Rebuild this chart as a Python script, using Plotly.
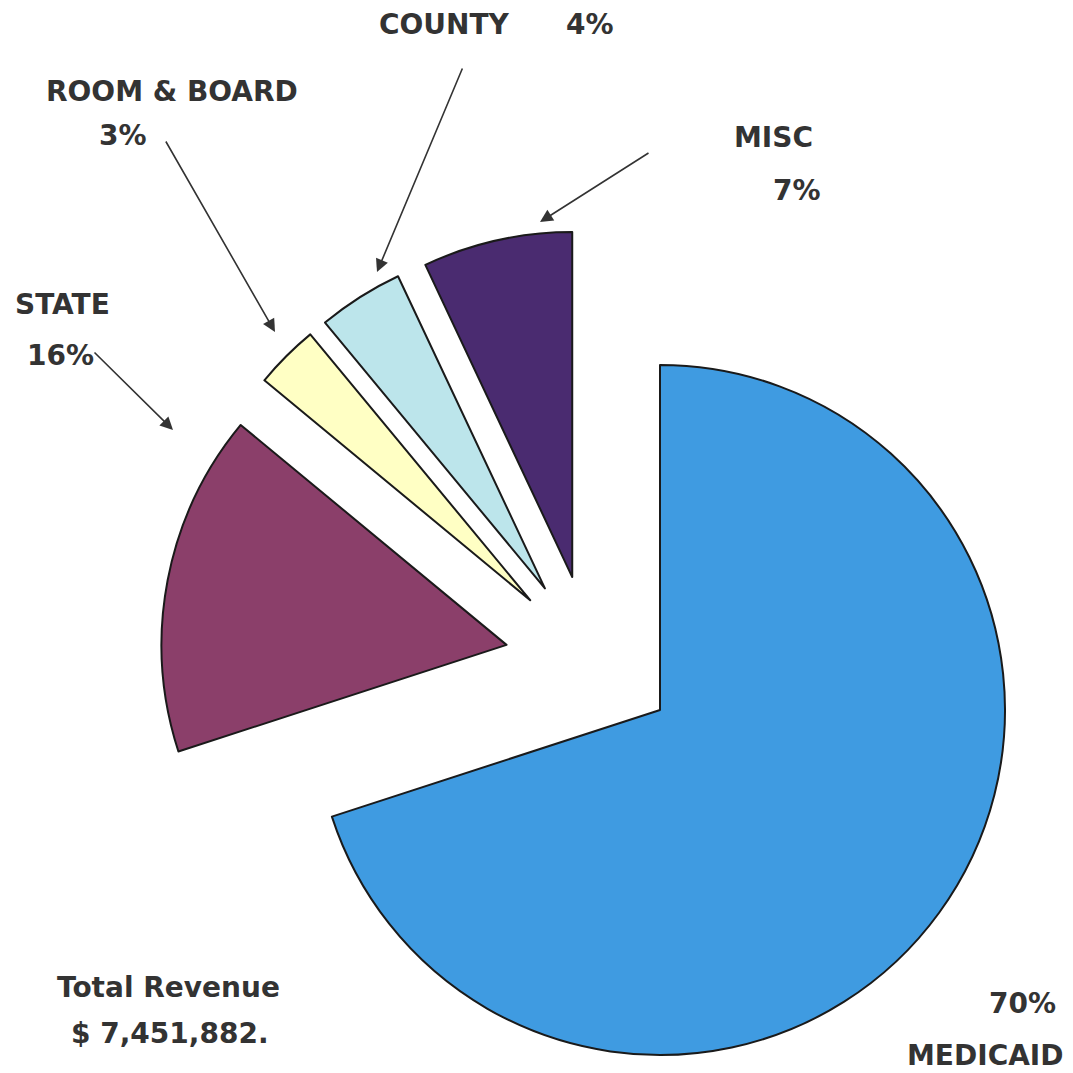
import math
import plotly.graph_objects as go

# ---- data ----
categories = ["MEDICAID", "STATE", "ROOM & BOARD", "COUNTY", "MISC"]
percent = [70, 16, 3, 4, 7]
colors = ["#3F9BE1", "#8B3F6A", "#FFFFC4", "#BCE5EB", "#4A2B70"]
total_revenue = "$ 7,451,882."

# ---- layout constants (pixels) ----
W = H = 1073
R = 345                      # pie radius
MAIN_C = (660, 710)          # centre of the un-pulled slice
EXPL_C = (591, 661)          # anchor of exploded group
EXPL_D = 86                  # explode distance
FONT = dict(family="DejaVu Sans", size=28, color="#333333")

def domain_for(cx, cy):
    return dict(x=[(cx - R) / W, (cx + R) / W],
                y=[1 - (cy + R) / H, 1 - (cy - R) / H])

fig = go.Figure()
total = sum(percent)
start = 0.0
for i, (cat, v) in enumerate(zip(categories, percent)):
    mid = start + v / total * 360 / 2
    start += v / total * 360
    if i == 0:
        cx, cy = MAIN_C
    else:
        a = math.radians(mid)
        cx = EXPL_C[0] + EXPL_D * math.sin(a)
        cy = EXPL_C[1] - EXPL_D * math.cos(a)
    cols = [c if j == i else "rgba(0,0,0,0)" for j, c in enumerate(colors)]
    lw = [2 if j == i else 0 for j in range(len(colors))]
    fig.add_trace(go.Pie(
        labels=categories, values=percent, sort=False, direction="clockwise",
        rotation=0, textinfo="none", hoverinfo="label+percent",
        marker=dict(colors=cols, line=dict(color="#1a1a1a", width=lw)),
        domain=domain_for(cx, cy), showlegend=False,
    ))

def px(x, y):
    return x / W, 1 - y / H

ann = []
def label(text, x, y):
    X, Y = px(x, y)
    ann.append(dict(text="<b>%s</b>" % text, x=X, y=Y, xref="paper", yref="paper",
                    showarrow=False, font=FONT, xanchor="center", yanchor="middle"))

def arrow(x0, y0, x1, y1):
    X, Y = px(x1, y1)
    ann.append(dict(text="", x=X, y=Y, xref="paper", yref="paper",
                    ax=x0 - x1, ay=y0 - y1, showarrow=True, arrowhead=2,
                    arrowsize=1.6, arrowwidth=1.6, arrowcolor="#333333"))

pct = dict(zip(categories, percent))
label("COUNTY", 444, 25); label("%d%%" % pct["COUNTY"], 590, 25)
label("ROOM &amp; BOARD", 172, 92); label("%d%%" % pct["ROOM & BOARD"], 123, 135)
label("MISC", 773, 137); label("%d%%" % pct["MISC"], 797, 190)
label("STATE", 62, 305); label("%d%%" % pct["STATE"], 60, 356)
label("%d%%" % pct["MEDICAID"], 1022, 1003); label("MEDICAID", 985, 1055)
label("Total Revenue", 168, 987); label(total_revenue, 170, 1033)

arrow(463, 67, 377, 272)
arrow(165, 140, 275, 332)
arrow(650, 152, 540, 222)
arrow(93, 351, 173, 430)

fig.update_layout(width=W, height=H, margin=dict(l=0, r=0, t=0, b=0),
                  paper_bgcolor="white", plot_bgcolor="white",
                  annotations=ann)
fig.write_html("out.html")
